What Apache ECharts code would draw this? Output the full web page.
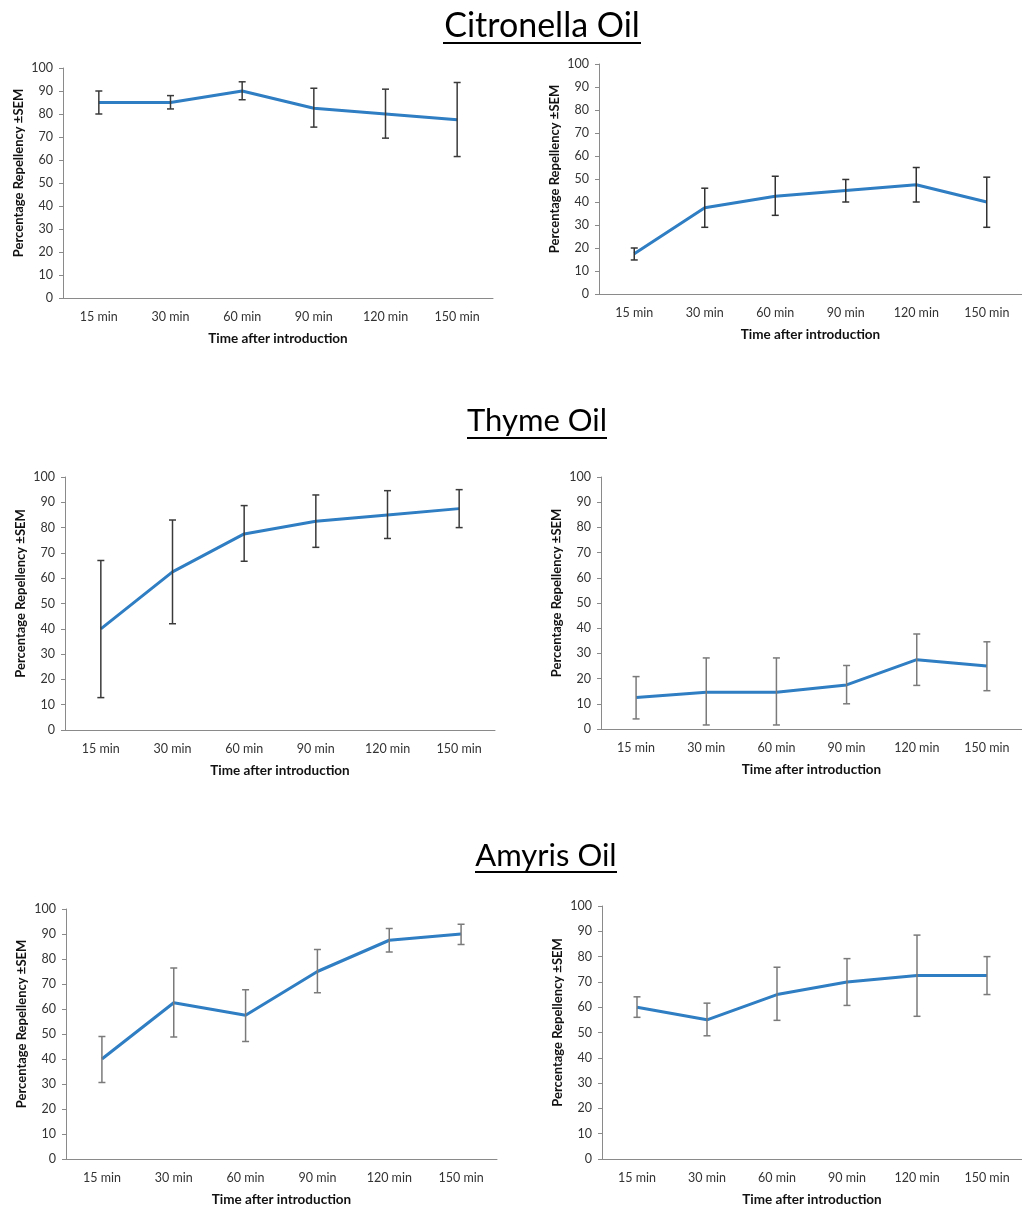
<!DOCTYPE html>
<html>
<head>
<meta charset="utf-8">
<script src="https://cdn.jsdelivr.net/npm/echarts@6/dist/echarts.min.js"></script>
<style>
html,body{margin:0;padding:0;background:#fff;}
#c{width:1022px;height:1208px;}
</style>
</head>
<body>
<div id="c"></div>
<script>
// ---- data ----
var categories = ['15 min', '30 min', '60 min', '90 min', '120 min', '150 min'];
var yTicks = [0, 10, 20, 30, 40, 50, 60, 70, 80, 90, 100];
var panelTitles = ['Citronella Oil', 'Thyme Oil', 'Amyris Oil'];
var xAxisTitle = 'Time after introduction';
var yAxisTitle = 'Percentage Repellency \u00B1SEM';

var citronellaLeft     = [85, 85, 90, 82.5, 80, 77.5];
var citronellaLeftLow  = [80, 82.2, 86.2, 74.3, 69.5, 61.5];
var citronellaLeftHigh = [90, 88, 94, 91.2, 90.8, 93.7];

var citronellaRight     = [17.5, 37.5, 42.5, 45, 47.5, 40];
var citronellaRightLow  = [14.8, 29, 34.2, 40, 40, 29];
var citronellaRightHigh = [20, 46, 51.2, 49.8, 55, 50.8];

var thymeLeft     = [40, 62.5, 77.5, 82.5, 85, 87.5];
var thymeLeftLow  = [12.8, 42, 66.7, 72.2, 75.7, 80];
var thymeLeftHigh = [67, 83, 88.7, 92.9, 94.6, 95];

var thymeRight     = [12.5, 14.6, 14.6, 17.5, 27.5, 25];
var thymeRightLow  = [4, 1.6, 1.6, 10, 17.3, 15.2];
var thymeRightHigh = [20.8, 28.2, 28.2, 25.2, 37.7, 34.6];

var amyrisLeft     = [40, 62.5, 57.5, 75, 87.5, 90];
var amyrisLeftLow  = [30.6, 48.8, 47, 66.5, 82.8, 85.8];
var amyrisLeftHigh = [49, 76.4, 67.7, 83.8, 92.2, 93.9];

var amyrisRight     = [60, 55, 65, 70, 72.5, 72.5];
var amyrisRightLow  = [56, 48.7, 54.8, 60.7, 56.4, 65];
var amyrisRightHigh = [64.1, 61.6, 75.8, 79.2, 88.5, 80];

// ---- layout ----
var panels = [
  {vals: citronellaLeft,  low: citronellaLeftLow,  high: citronellaLeftHigh,  grid: {left: 63,  top: 68,  width: 430, height: 230}, errColor: '#3a3a3a'},
  {vals: citronellaRight, low: citronellaRightLow, high: citronellaRightHigh, grid: {left: 599, top: 64,  width: 430, height: 230}, errColor: '#333333'},
  {vals: thymeLeft,       low: thymeLeftLow,       high: thymeLeftHigh,       grid: {left: 65,  top: 477, width: 430, height: 253}, errColor: '#3a3a3a'},
  {vals: thymeRight,      low: thymeRightLow,      high: thymeRightHigh,      grid: {left: 601, top: 477, width: 428, height: 252}, errColor: '#7a7a7a'},
  {vals: amyrisLeft,      low: amyrisLeftLow,      high: amyrisLeftHigh,      grid: {left: 66,  top: 909, width: 431, height: 253}, errColor: '#7a7a7a'},
  {vals: amyrisRight,     low: amyrisRightLow,     high: amyrisRightHigh,     grid: {left: 602, top: 906, width: 428, height: 255}, errColor: '#7a7a7a'}
];

var FONT = 'Lato, "Open Sans", sans-serif';
var grids = [], xAxes = [], yAxes = [], series = [];

panels.forEach(function (p, i) {
  grids.push(Object.assign({containLabel: false}, p.grid));
  xAxes.push({
    type: 'category', gridIndex: i, data: categories, boundaryGap: true,
    axisLine: {show: true, lineStyle: {color: '#8a8a8a', width: 1}},
    axisTick: {show: false},
    axisLabel: {color: '#333', fontFamily: FONT, fontSize: 12.5, margin: 12, interval: 0},
    splitLine: {show: false},
    name: xAxisTitle, nameLocation: 'middle', nameGap: 34,
    nameTextStyle: {color: '#111', fontFamily: FONT, fontWeight: 'bold', fontSize: 13.5}
  });
  yAxes.push({
    type: 'value', gridIndex: i, min: yTicks[0], max: yTicks[yTicks.length - 1], interval: yTicks[1] - yTicks[0],
    axisLine: {show: true, lineStyle: {color: '#8a8a8a', width: 1}},
    axisTick: {show: true, length: 4, lineStyle: {color: '#8a8a8a'}},
    axisLabel: {color: '#333', fontFamily: FONT, fontSize: 12.5, margin: 10},
    splitLine: {show: false},
    name: yAxisTitle, nameLocation: 'middle', nameGap: 38, nameRotate: 90,
    nameTextStyle: {color: '#111', fontFamily: FONT, fontWeight: 'bold', fontSize: 13, padding: [0, 0, 0, 20]}
  });
  series.push({
    type: 'line', xAxisIndex: i, yAxisIndex: i, data: p.vals,
    showSymbol: false, symbol: 'none', smooth: false,
    lineStyle: {color: '#2F7DC2', width: 3}, z: 2, silent: true
  });
  var errData = categories.map(function (c, k) { return [k, p.low[k], p.high[k]]; });
  series.push({
    type: 'custom', xAxisIndex: i, yAxisIndex: i, data: errData, z: 3, silent: true,
    renderItem: (function (col) {
      return function (params, api) {
        var lo = api.coord([api.value(0), api.value(1)]);
        var hi = api.coord([api.value(0), api.value(2)]);
        var w = 3.5;
        var st = {stroke: col, lineWidth: 1.5};
        return {type: 'group', children: [
          {type: 'line', shape: {x1: lo[0], y1: lo[1], x2: hi[0], y2: hi[1]}, style: st},
          {type: 'line', shape: {x1: lo[0] - w, y1: lo[1], x2: lo[0] + w, y2: lo[1]}, style: st},
          {type: 'line', shape: {x1: hi[0] - w, y1: hi[1], x2: hi[0] + w, y2: hi[1]}, style: st}
        ]};
      };
    })(p.errColor)
  });
});

var titlePos = [
  {x: 542, y: 26, size: 34, ux1: 443, ux2: 641, uy: 43},
  {x: 537, y: 421, size: 31, ux1: 467, ux2: 607, uy: 438},
  {x: 546, y: 856, size: 31, ux1: 475, ux2: 617, uy: 872}
];
var graphics = [];
panelTitles.forEach(function (t, i) {
  var tp = titlePos[i];
  graphics.push({type: 'text', x: tp.x, y: tp.y, style: {text: t, font: tp.size + 'px ' + FONT, fill: '#000', textAlign: 'center', textVerticalAlign: 'middle'}});
  graphics.push({type: 'line', shape: {x1: tp.ux1, y1: tp.uy, x2: tp.ux2, y2: tp.uy}, style: {stroke: '#000', lineWidth: 2}});
});

var chart = echarts.init(document.getElementById('c'), null, {renderer: 'canvas'});
chart.setOption({
  backgroundColor: '#fff',
  animation: false,
  grid: grids, xAxis: xAxes, yAxis: yAxes, series: series,
  graphic: graphics
});
</script>
</body>
</html>
